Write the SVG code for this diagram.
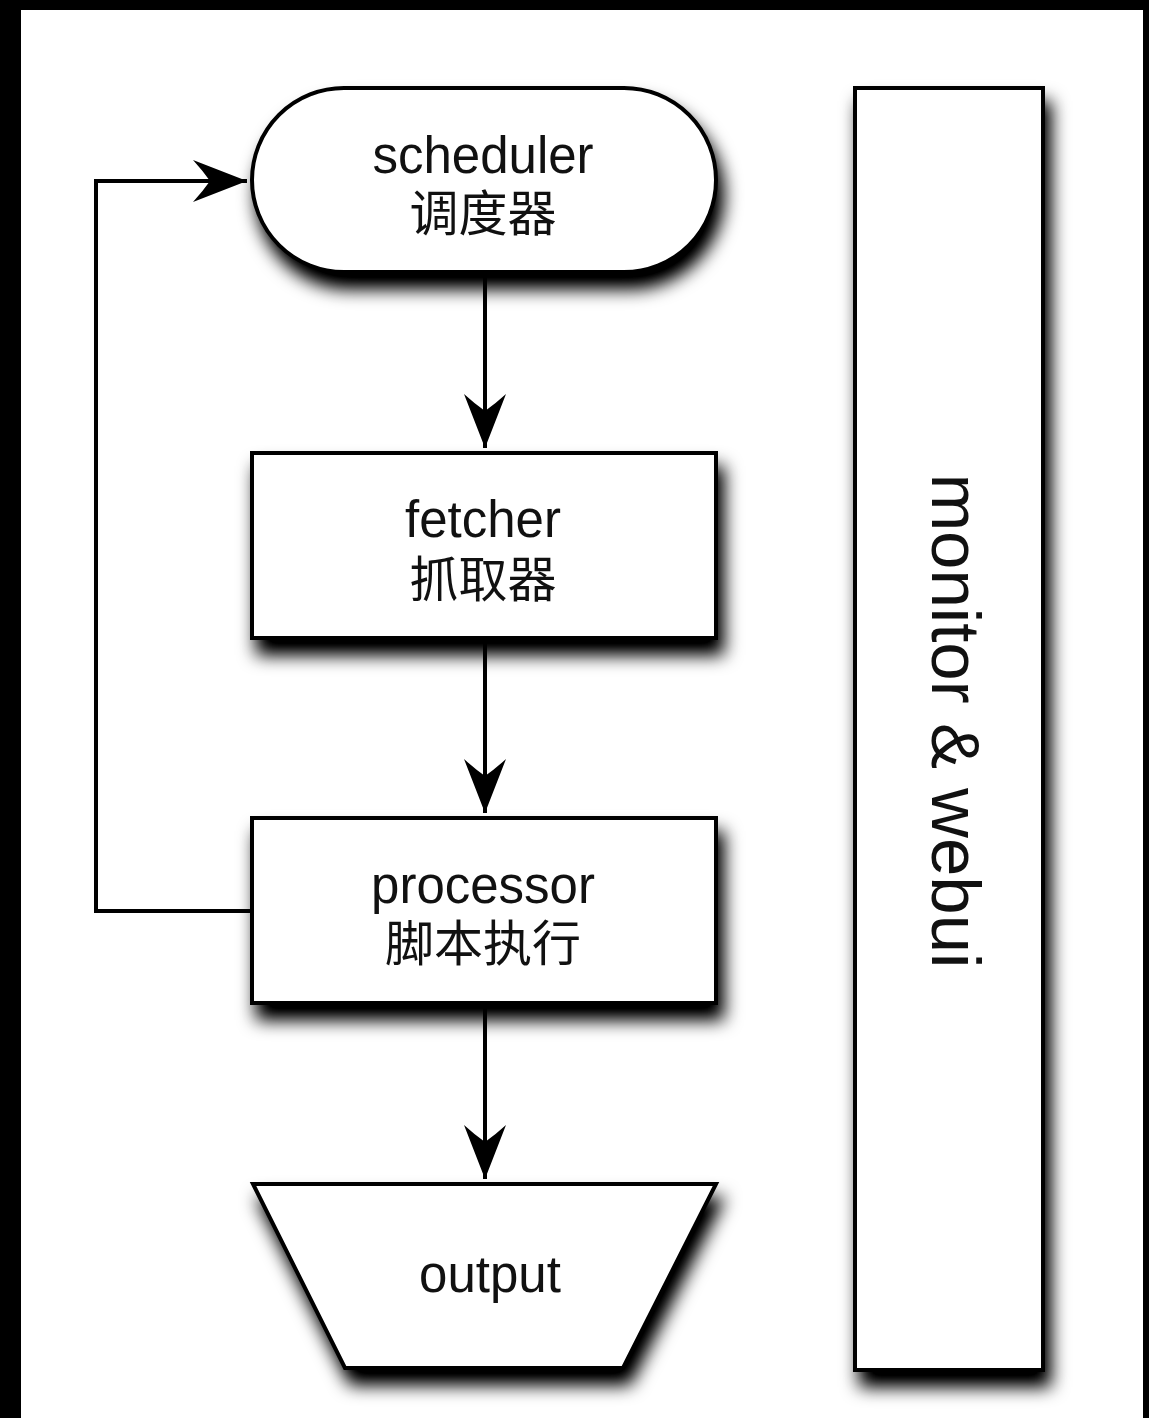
<svg xmlns="http://www.w3.org/2000/svg" width="1149" height="1418" viewBox="0 0 1149 1418">
  <style>
    .shape { fill: #ffffff; stroke: #000000; stroke-width: 4; stroke-linejoin: miter; }
    .lbl { font-family: "Liberation Sans", Arial, "Noto Sans CJK SC", sans-serif; font-size: 51px; fill: #111111; text-anchor: middle; }
    .cjk { font-family: "Noto Sans CJK SC", "Liberation Sans", sans-serif; font-size: 49px; fill: #111111; text-anchor: middle; }
    .vert { font-size: 69px; }
    .conn { fill: none; stroke: #000000; stroke-width: 4; }
  </style>
  <defs>
    <filter id="shadow" x="-30%" y="-30%" width="160%" height="160%">
      <feGaussianBlur in="SourceAlpha" stdDeviation="9" result="blur"/>
      <feOffset in="blur" dx="6" dy="15" result="off"/>
      <feComponentTransfer in="off" result="dark">
        <feFuncA type="linear" slope="1.1"/>
      </feComponentTransfer>
      <feMerge>
        <feMergeNode in="dark"/>
        <feMergeNode in="SourceGraphic"/>
      </feMerge>
    </filter>
    <marker id="arrow" markerUnits="userSpaceOnUse" markerWidth="62" markerHeight="50" viewBox="-58 -25 62 50" refX="0" refY="0" orient="auto">
      <path d="M0,0 L-54,-21 Q-44,-10 -37,0 Q-44,10 -54,21 Z" fill="#000000"/>
    </marker>
  </defs>

  <rect x="0" y="0" width="1149" height="1418" fill="#000000"/>
  <rect x="21" y="10" width="1122" height="1408" fill="#ffffff"/>

  <g id="connectors">
    <path class="conn" d="M485,272 L485,448" marker-end="url(#arrow)"/>
    <path class="conn" d="M485,638 L485,813" marker-end="url(#arrow)"/>
    <path class="conn" d="M485,1003 L485,1179" marker-end="url(#arrow)"/>
    <path class="conn" d="M252,911 L96,911 L96,181 L247,181" marker-end="url(#arrow)"/>
  </g>

  <g id="scheduler">
    <rect class="shape" x="252" y="88" width="464" height="184" rx="92" ry="92" filter="url(#shadow)"/>
    <text class="lbl" x="483" y="173">scheduler</text>
    <text class="cjk" x="483" y="231">调度器</text>
  </g>

  <g id="fetcher">
    <rect class="shape" x="252" y="453" width="464" height="185" filter="url(#shadow)"/>
    <text class="lbl" x="483" y="537">fetcher</text>
    <text class="cjk" x="483" y="597">抓取器</text>
  </g>

  <g id="processor">
    <rect class="shape" x="252" y="818" width="464" height="185" filter="url(#shadow)"/>
    <text class="lbl" x="483" y="903">processor</text>
    <text class="cjk" x="483" y="961">脚本执行</text>
  </g>

  <g id="output">
    <polygon class="shape" points="253,1184 716,1184 623,1368 345,1368" filter="url(#shadow)"/>
    <text class="lbl" x="490" y="1292">output</text>
  </g>

  <g id="monitor">
    <rect class="shape" x="855" y="88" width="188" height="1282" filter="url(#shadow)"/>
    <text class="lbl vert" transform="translate(932,721) rotate(90)" x="0" y="0">monitor &amp; webui</text>
  </g>
</svg>
